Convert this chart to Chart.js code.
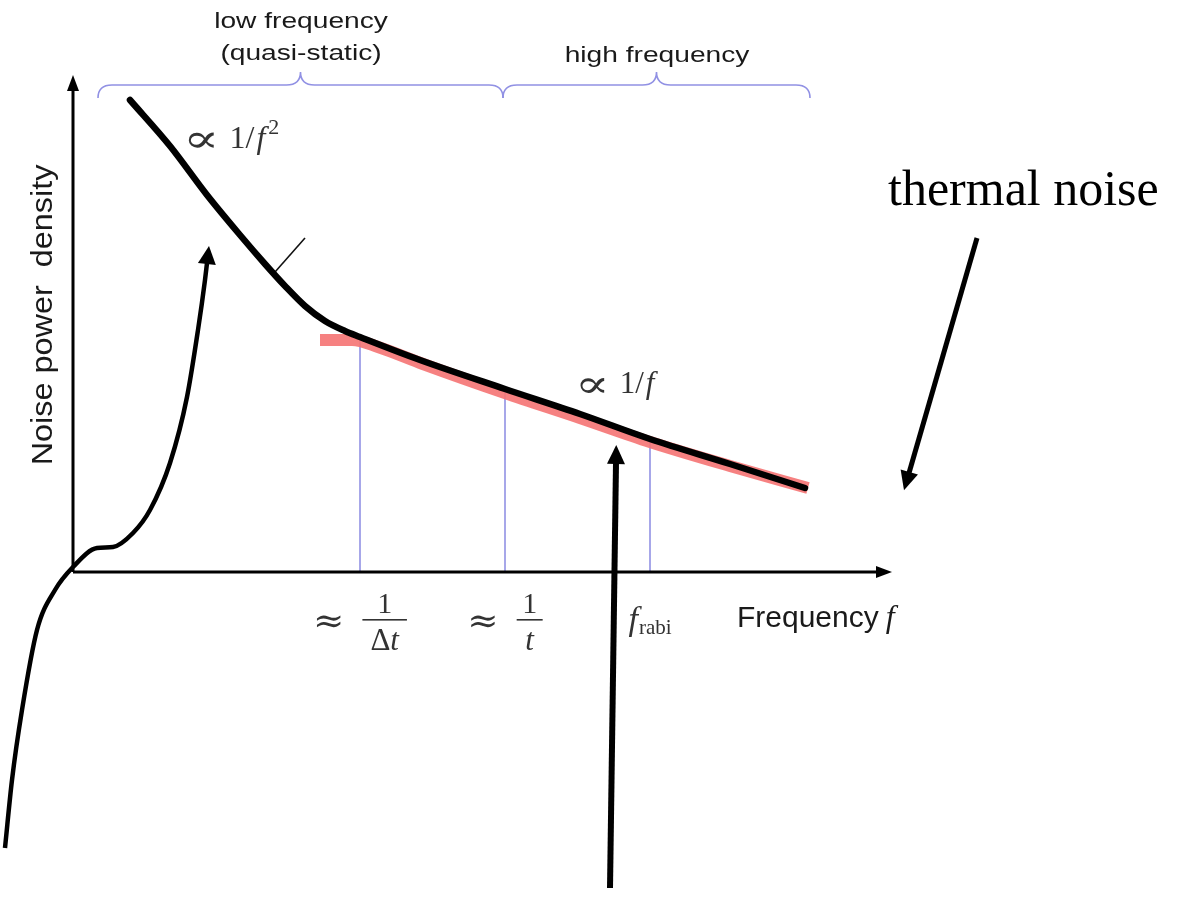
<!DOCTYPE html>
<html>
<head>
<meta charset="utf-8">
<script src="https://cdn.jsdelivr.net/npm/chart.js@4"></script>
<style>
  html, body { margin: 0; padding: 0; background: #fff; }
  #wrap { width: 1196px; height: 906px; }
</style>
</head>
<body>
<div id="wrap"><canvas id="noise" width="1196" height="906"></canvas></div>
<script>
// schematic units: frequency f to the right, noise power density S upwards
// measured noise spectrum (black)
const specF = [0.57, 0.97, 1.34, 1.67, 1.92, 2.12, 2.32, 2.52, 2.72, 2.87, 3.47, 4.32, 5.07, 5.77, 6.57, 7.32];
const specS = [4.72, 4.26, 3.77, 3.37, 3.08, 2.86, 2.66, 2.51, 2.41, 2.35, 2.12, 1.83, 1.58, 1.33, 1.08, 0.84];

// 1/f model (pink)
const fitF = [2.47, 2.79, 3.05, 3.50, 4.32, 5.07, 5.77, 6.57, 7.35];
const fitS = [2.32, 2.32, 2.25, 2.08, 1.79, 1.54, 1.30, 1.06, 0.84];

// marked frequencies 1/Δt, 1/t, f_rabi
const markF = [2.87, 4.32, 5.77];
const markS = [2.34, 1.83, 1.32];
const tickNum = ['1', '1', null];
const tickDen = ['Δt', 't', null];

// frequency bands (braces on top)
const bandFrom = [0.25, 4.30];
const bandTo = [4.30, 7.37];

// axes extents
const axisF = [0, 8.04];
const axisS = [0, 4.82];

// pointer arrows
const sArrowF = [-0.68, -0.61, -0.51, -0.36, -0.18, 0.00, 0.24, 0.40, 0.60, 0.77, 0.97, 1.14, 1.25, 1.32, 1.34];
const sArrowS = [-2.76, -2.08, -1.38, -0.58, -0.18, 0.05, 0.24, 0.25, 0.39, 0.62, 1.09, 1.75, 2.42, 2.92, 3.09];
const vArrowF = [5.37, 5.43];
const vArrowS = [-3.16, 1.09];
const tArrowF = [9.04, 8.36];
const tArrowS = [3.34, 0.99];

// 1/f^2 slope tick
const slopeF = [2.02, 2.32];
const slopeS = [3.00, 3.34];

const xy = (xs, ys) => xs.map((x, i) => ({ x: x, y: ys[i] }));

const BLUE = 'rgb(145,145,228)';
const SERIF = '"Liberation Serif", "DejaVu Serif", serif';
const MATH = '"DejaVu Serif", serif';
const SANS = '"Liberation Sans", Arial, sans-serif';

const line = (data, color, width, extra) => Object.assign({
  data: data, showLine: true, borderColor: color, borderWidth: width,
  pointRadius: 0, fill: false, tension: 0, clip: false
}, extra || {});
const smooth = { cubicInterpolationMode: 'monotone' };

const datasets = [
  line(xy(sArrowF, sArrowS), '#000', 4.5, Object.assign({ order: 0, head: [17, 9] }, smooth)),
  line(xy(vArrowF, vArrowS), '#000', 6, { order: 0, head: [18, 9] }),
  line(xy(tArrowF, tArrowS), '#000', 5, { order: 0, head: [18, 9] }),
  line(xy(specF, specS), '#000', 6.5, Object.assign({ order: 1, borderCapStyle: 'round' }, smooth)),
  line(xy([axisF[0], axisF[1]], [0, 0]), '#000', 3, { order: 2, head: [15, 6] }),
  line(xy([0, 0], [axisS[0], axisS[1]]), '#000', 3, { order: 2, head: [15, 6] }),
  line(xy(slopeF, slopeS), '#111', 1.6, { order: 2 }),
  line(xy(fitF, fitS), 'rgba(245,118,118,0.92)', 12, Object.assign({ order: 3 }, smooth))
];
markF.forEach((f, i) => {
  datasets.push(line(xy([f, f], [0, markS[i]]), BLUE, 1.6, { order: 4 }));
});

// draws consecutive text pieces; a piece may be stretched horizontally (sx)
function runs(ctx, parts, x, y, align) {
  let total = 0;
  parts.forEach(p => {
    ctx.font = p.font;
    p.w = ctx.measureText(p.t).width * (p.sx || 1);
    total += p.w + (p.gap || 0);
  });
  let cx = align === 'center' ? x - total / 2 : x;
  ctx.textAlign = 'left';
  parts.forEach(p => {
    ctx.save();
    ctx.font = p.font;
    ctx.translate(cx, y + (p.dy || 0));
    ctx.scale(p.sx || 1, 1);
    ctx.fillText(p.t, 0, 0);
    ctx.restore();
    cx += p.w + (p.gap || 0);
  });
  return total;
}

function stretched(ctx, t, x, y, font, sx, rot) {
  ctx.save();
  ctx.translate(x, y);
  if (rot) ctx.rotate(rot);
  ctx.scale(sx, 1);
  ctx.font = font;
  ctx.textAlign = 'center';
  ctx.fillText(t, 0, 0);
  ctx.restore();
}

function brace(ctx, x1, x2, yb) {
  const xm = (x1 + x2) / 2, r = 14, d = 13;
  ctx.beginPath();
  ctx.moveTo(x1, yb + d);
  ctx.quadraticCurveTo(x1, yb, x1 + r, yb);
  ctx.lineTo(xm - r, yb);
  ctx.quadraticCurveTo(xm, yb, xm, yb - d);
  ctx.quadraticCurveTo(xm, yb, xm + r, yb);
  ctx.lineTo(x2 - r, yb);
  ctx.quadraticCurveTo(x2, yb, x2, yb + d);
  ctx.stroke();
}

const decor = {
  id: 'decor',
  afterDatasetsDraw(chart) {
    const ctx = chart.ctx;
    const sx = chart.scales.x, sy = chart.scales.y;
    const X = v => sx.getPixelForValue(v), Y = v => sy.getPixelForValue(v);

    // arrow heads
    chart.data.datasets.forEach((ds, i) => {
      if (!ds.head) return;
      const pts = chart.getDatasetMeta(i).data;
      const a = pts[pts.length - 1];
      let bx = pts[pts.length - 2].x, by = pts[pts.length - 2].y;
      if (ds.cubicInterpolationMode && a.cp1x !== undefined && Math.hypot(a.x - a.cp1x, a.y - a.cp1y) > 0.5) {
        bx = a.cp1x; by = a.cp1y;
      }
      const ang = Math.atan2(a.y - by, a.x - bx);
      const [len, half] = ds.head;
      const c = Math.cos(ang), s = Math.sin(ang);
      ctx.save();
      ctx.fillStyle = '#000';
      ctx.beginPath();
      ctx.moveTo(a.x + c * len, a.y + s * len);
      ctx.lineTo(a.x - c * 1 - s * half, a.y - s * 1 + c * half);
      ctx.lineTo(a.x - c * 1 + s * half, a.y - s * 1 - c * half);
      ctx.closePath();
      ctx.fill();
      ctx.restore();
    });

    ctx.save();
    // braces and band labels
    ctx.strokeStyle = BLUE;
    ctx.lineWidth = 1.6;
    bandFrom.forEach((f, i) => brace(ctx, X(f), X(bandTo[i]), Y(4.87)));
    ctx.fillStyle = '#1a1a1a';
    ctx.textBaseline = 'alphabetic';
    stretched(ctx, 'low frequency', X(2.28), Y(5.44), '22px ' + SANS, 1.28);
    stretched(ctx, '(quasi-static)', X(2.28), Y(5.12), '22px ' + SANS, 1.28);
    stretched(ctx, 'high frequency', X(5.84), Y(5.10), '22px ' + SANS, 1.28);

    // axis titles
    stretched(ctx, 'Noise power  density', X(-0.21), Y(2.57), '30px ' + SANS, 1.08, -Math.PI / 2);
    runs(ctx, [
      { t: 'Frequency', font: '30px ' + SANS, gap: 7 },
      { t: 'f', font: 'italic 32px ' + SERIF }
    ], X(6.64), Y(-0.55), 'left');

    // power-law annotations
    ctx.fillStyle = '#333';
    runs(ctx, [
      { t: '∝', font: '40px ' + MATH, gap: 10, sx: 1.35, dy: 4 },
      { t: '1/', font: '32px ' + SERIF, gap: 2 },
      { t: 'f', font: 'italic 32px ' + SERIF, gap: 3 },
      { t: '2', font: '22px ' + SERIF, dy: -14 }
    ], X(1.10), Y(4.24), 'left');
    runs(ctx, [
      { t: '∝', font: '38px ' + MATH, gap: 10, sx: 1.35, dy: 4 },
      { t: '1/', font: '31px ' + SERIF, gap: 2 },
      { t: 'f', font: 'italic 31px ' + SERIF }
    ], X(5.02), Y(1.79), 'left');

    // tick labels under the marked frequencies
    const y0 = Y(0);
    markF.forEach((f, i) => {
      const cx = X(f);
      if (tickNum[i]) {
        ctx.font = '34px ' + MATH;
        const wA = ctx.measureText('≈').width * 1.1;
        ctx.font = '31px ' + SERIF;
        const wDelta = tickDen[i] === 'Δt' ? ctx.measureText('Δ').width : 0;
        ctx.font = 'italic 31px ' + SERIF;
        const wT = ctx.measureText('t').width;
        const wDen = wDelta + wT;
        const barW = Math.max(wDen, 16) + (tickDen[i] === 'Δt' ? 16 : 10);
        const gap = 18;
        const total = wA + gap + barW;
        const left = cx - total / 2;
        runs(ctx, [{ t: '≈', font: '34px ' + MATH, sx: 1.1 }], left, y0 + 60, 'left');
        const bl = left + wA + gap;
        ctx.fillRect(bl, y0 + 47, barW, 1.6);
        ctx.textAlign = 'center';
        ctx.font = '30px ' + SERIF;
        ctx.fillText(tickNum[i], bl + barW / 2, y0 + 41);
        ctx.textAlign = 'left';
        const dl = bl + (barW - wDen) / 2;
        if (wDelta) {
          ctx.font = '31px ' + SERIF;
          ctx.fillText('Δ', dl, y0 + 78);
        }
        ctx.font = 'italic 31px ' + SERIF;
        ctx.fillText('t', dl + wDelta, y0 + 78);
      } else {
        runs(ctx, [
          { t: 'f', font: 'italic 34px ' + SERIF, gap: 1 },
          { t: 'rabi', font: '21px ' + SERIF, dy: 4 }
        ], cx, y0 + 58, 'center');
      }
    });

    // thermal noise label
    ctx.fillStyle = '#000';
    ctx.textAlign = 'left';
    ctx.font = '50px ' + SERIF;
    ctx.fillText('thermal noise', X(8.15), Y(3.67));
    ctx.restore();
  }
};

new Chart(document.getElementById('noise'), {
  type: 'scatter',
  data: { datasets: datasets },
  options: {
    responsive: false,
    animation: false,
    events: [],
    layout: { padding: 0 },
    plugins: { legend: { display: false }, tooltip: { enabled: false }, title: { display: false } },
    scales: {
      x: { type: 'linear', min: -0.73, max: 11.23, display: false },
      y: { type: 'linear', min: -3.34, max: 5.72, display: false }
    }
  },
  plugins: [decor]
});
</script>
</body>
</html>
